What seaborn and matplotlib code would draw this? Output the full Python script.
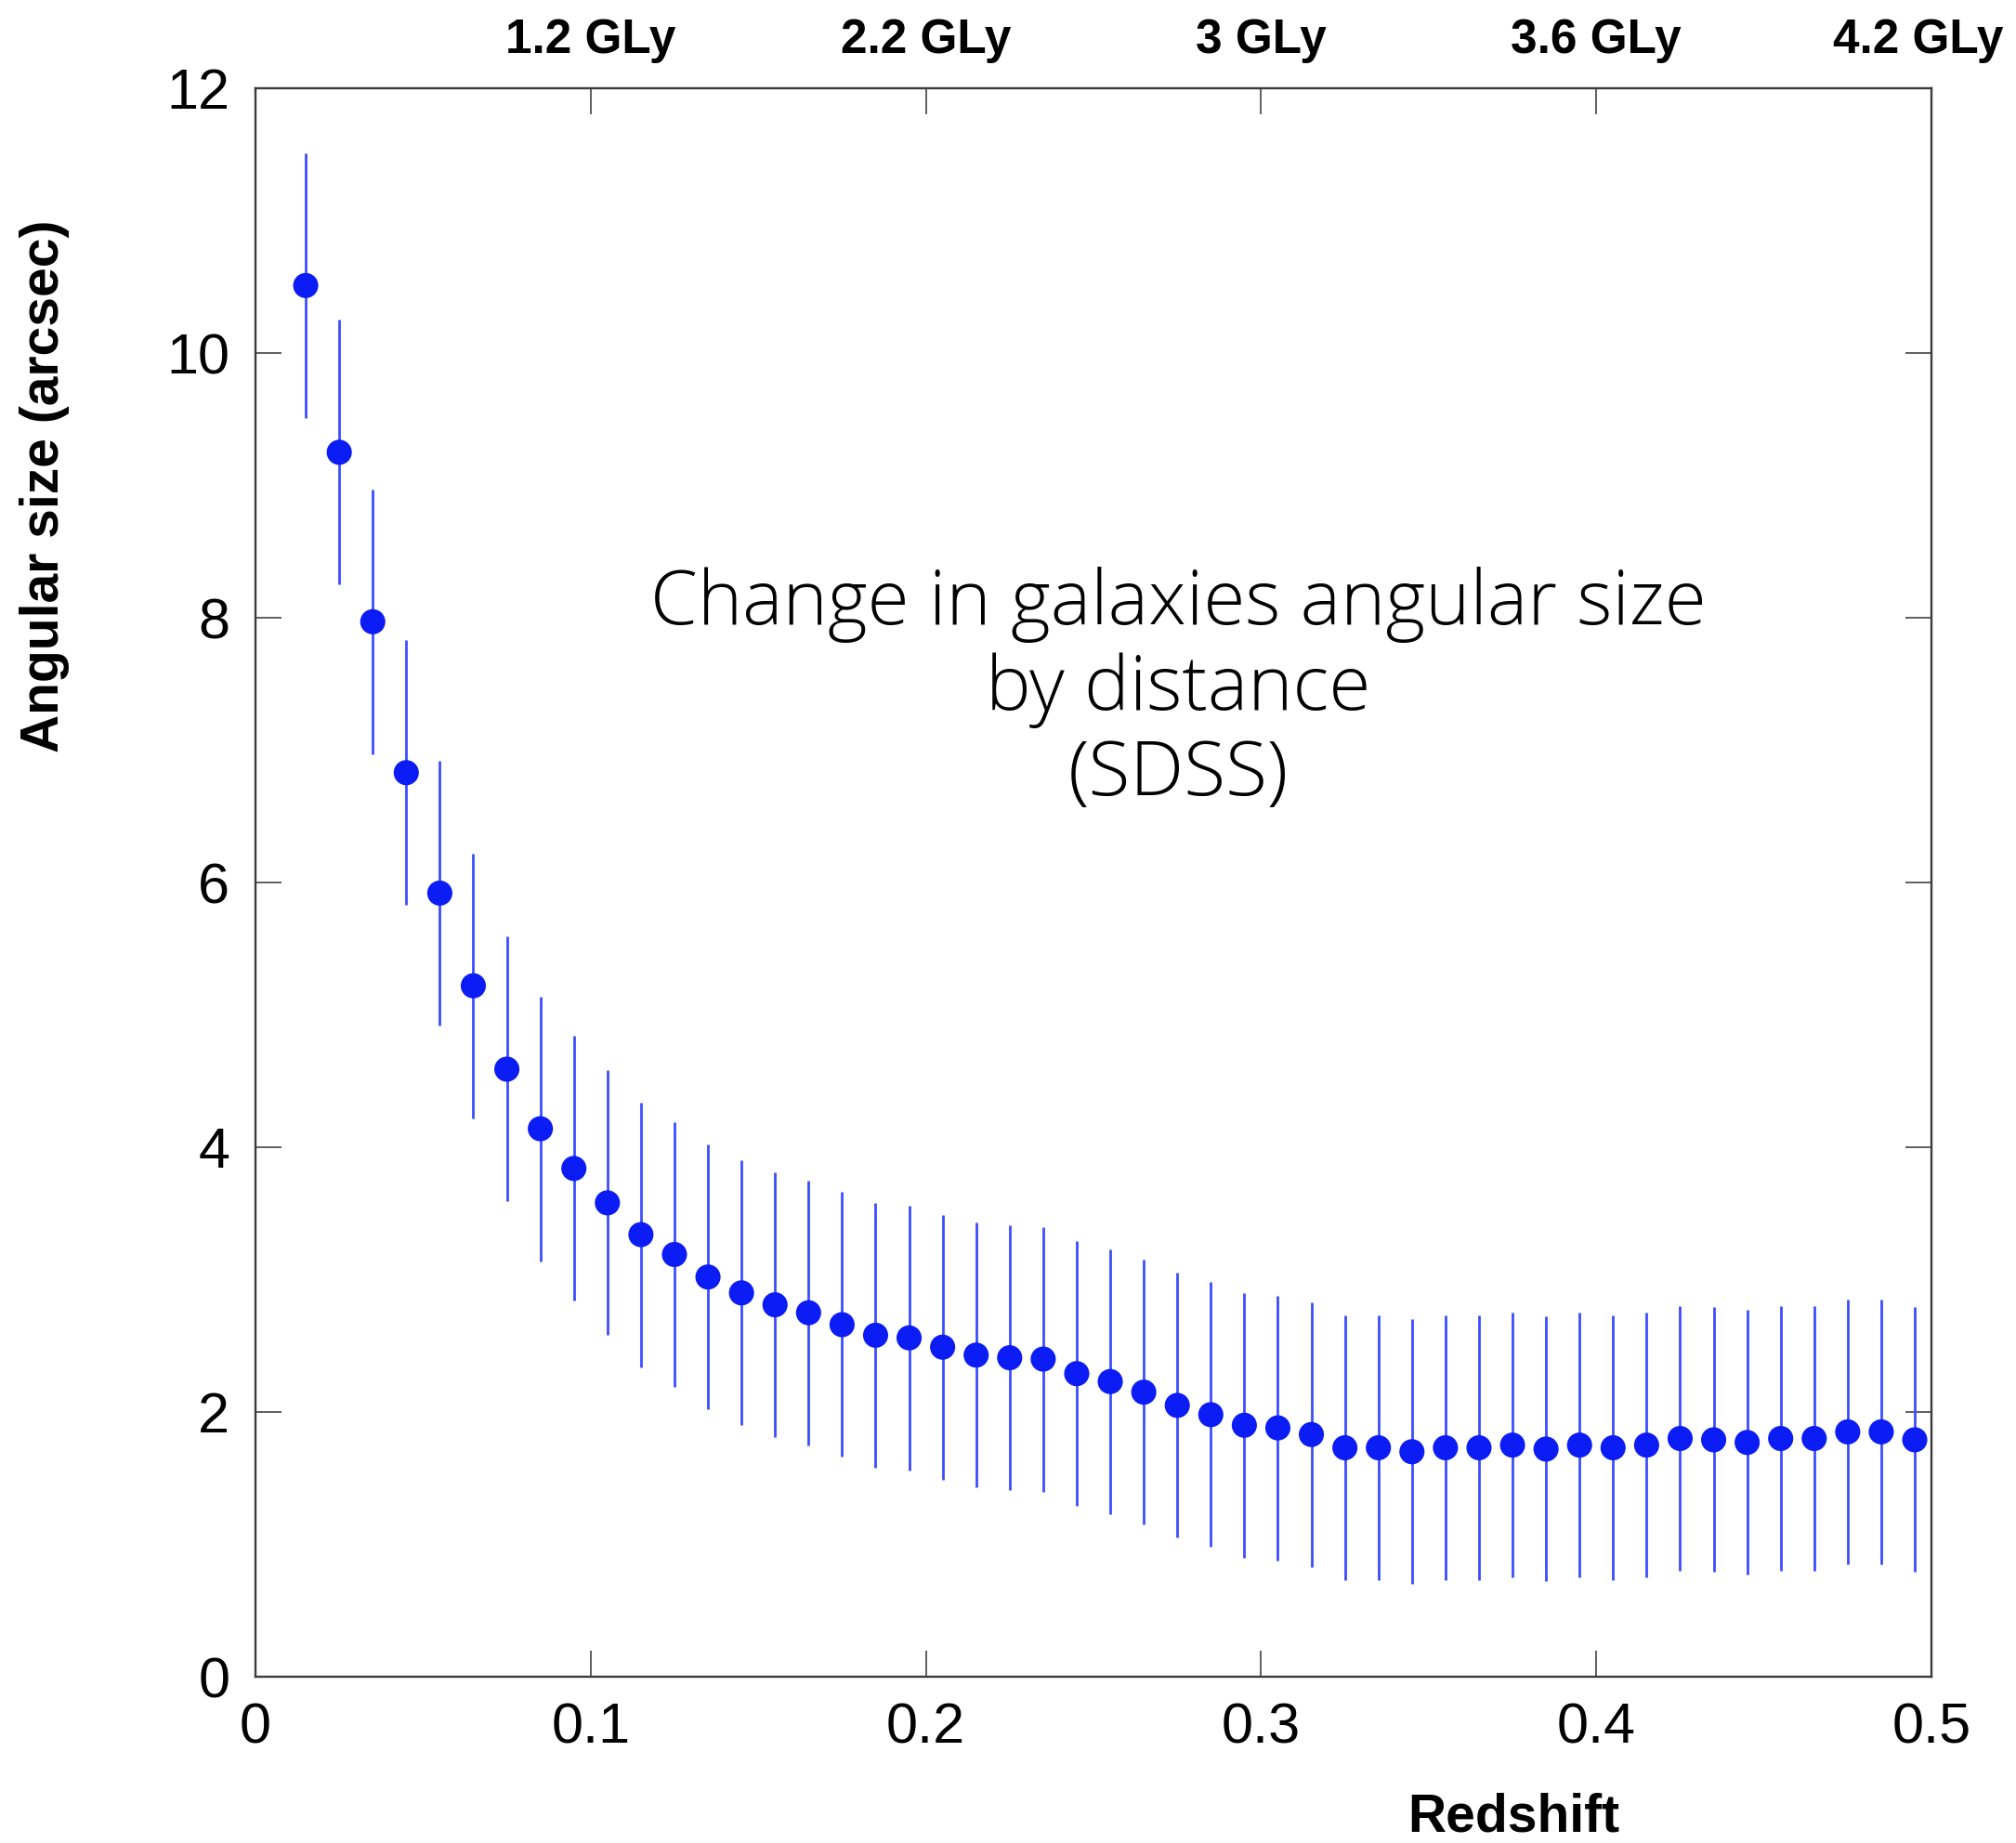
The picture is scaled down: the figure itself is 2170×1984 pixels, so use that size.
import matplotlib
matplotlib.use("Agg")
import matplotlib.pyplot as plt
import seaborn as sns
import pandas as pd

# Binned SDSS galaxies: mean angular size per redshift bin, with error half-widths
redshift = [0.015, 0.025, 0.035, 0.045, 0.055, 0.065, 0.075, 0.085, 0.095, 0.105,
            0.115, 0.125, 0.135, 0.145, 0.155, 0.165, 0.175, 0.185, 0.195, 0.205,
            0.215, 0.225, 0.235, 0.245, 0.255, 0.265, 0.275, 0.285, 0.295, 0.305,
            0.315, 0.325, 0.335, 0.345, 0.355, 0.365, 0.375, 0.385, 0.395, 0.405,
            0.415, 0.425, 0.435, 0.445, 0.455, 0.465, 0.475, 0.485, 0.495]
angular_size = [10.51, 9.25, 7.97, 6.83, 5.92, 5.22, 4.59, 4.14, 3.84, 3.58,
                3.34, 3.19, 3.02, 2.90, 2.81, 2.75, 2.66, 2.58, 2.56, 2.49,
                2.43, 2.41, 2.40, 2.29, 2.23, 2.15, 2.05, 1.98, 1.90, 1.88,
                1.83, 1.73, 1.73, 1.70, 1.73, 1.73, 1.75, 1.72, 1.75, 1.73,
                1.75, 1.80, 1.79, 1.77, 1.80, 1.80, 1.85, 1.85, 1.79]
size_error = [1.0, 1.0, 1.0, 1.0, 1.0, 1.0, 1.0, 1.0, 1.0, 1.0,
              1.0, 1.0, 1.0, 1.0, 1.0, 1.0, 1.0, 1.0, 1.0, 1.0,
              1.0, 1.0, 1.0, 1.0, 1.0, 1.0, 1.0, 1.0, 1.0, 1.0,
              1.0, 1.0, 1.0, 1.0, 1.0, 1.0, 1.0, 1.0, 1.0, 1.0,
              1.0, 1.0, 1.0, 1.0, 1.0, 1.0, 1.0, 1.0, 1.0]

x_ticks = [0, 0.1, 0.2, 0.3, 0.4, 0.5]
x_tick_labels = ["0", "0.1", "0.2", "0.3", "0.4", "0.5"]
y_ticks = [0, 2, 4, 6, 8, 10, 12]
y_tick_labels = ["0", "2", "4", "6", "8", "10", "12"]

# Light-travel distance markers along the top edge
distance_z = [0.1, 0.2, 0.3, 0.4, 0.5]
distance_labels = ["1.2 GLy", "2.2 GLy", "3 GLy", "3.6 GLy", "4.2 GLy"]

df = pd.DataFrame({"z": redshift, "size": angular_size, "err": size_error})

sns.set_theme(style="ticks")
plt.rcParams["font.family"] = ["Liberation Sans", "DejaVu Sans"]

fig = plt.figure(figsize=(21.7, 19.84), dpi=100)
ax = fig.add_axes([0.1267, 0.0902, 0.8314, 0.8619])

point_color = "#0b1cf5"
bar_color = "#3b4dff"

ax.errorbar(df["z"], df["size"], yerr=df["err"], fmt="none",
            ecolor=bar_color, elinewidth=2.0, capsize=0, zorder=2)
sns.scatterplot(data=df, x="z", y="size", ax=ax, s=380, color=point_color,
                edgecolor="none", linewidth=0, zorder=3, legend=False)

ax.set_xlim(0, 0.5)
ax.set_ylim(0, 12)
ax.set_xticks(x_ticks)
ax.set_xticklabels(x_tick_labels)
ax.set_yticks(y_ticks)
ax.set_yticklabels(y_tick_labels)

ax.tick_params(axis="both", which="major", direction="in", length=20, width=1.1,
               color="#333333", labelsize=44, labelcolor="black", pad=20,
               top=True, right=True)
for side in ["left", "right", "top", "bottom"]:
    ax.spines[side].set_visible(True)
    ax.spines[side].set_color("#3a3a3a")
    ax.spines[side].set_linewidth(1.7)

ax.set_xlabel("Redshift", fontsize=41, fontweight="bold", color="black")
ax.set_ylabel("Angular size (arcsec)", fontsize=41, fontweight="bold", color="black")
ax.xaxis.set_label_coords(0.7506, -0.0883)
ax.xaxis.label.set_va("center")
ax.yaxis.set_label_coords(-0.126, 0.7497)
ax.yaxis.label.set_va("center")

top_trans = matplotlib.transforms.blended_transform_factory(ax.transData, ax.transAxes)
for z, lab in zip(distance_z, distance_labels):
    ax.text(min(z, 0.496), 1.0222, lab, transform=top_trans, ha="center",
            va="baseline", fontsize=37, fontweight="bold", color="black")

ax.text(0.2754, 7.45, "Change in galaxies angular size\nby distance\n(SDSS)",
        ha="center", va="center", multialignment="center", fontsize=59,
        family=["Open Sans", "DejaVu Sans"], fontweight="light", linespacing=1.16,
        color="black")

fig.savefig("out.png", dpi=100, facecolor="white")
